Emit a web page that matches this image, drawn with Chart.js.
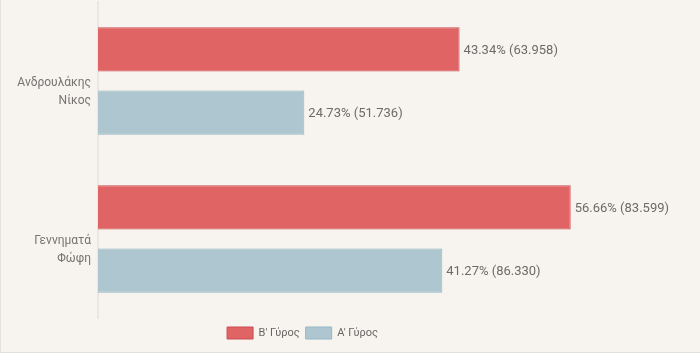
<!DOCTYPE html>
<html>
<head>
<meta charset="utf-8">
<script src="https://cdn.jsdelivr.net/npm/chart.js@4/dist/chart.umd.min.js"></script>
<style>
  html, body { margin: 0; padding: 0; background: #ffffff; }
  #wrap { position: absolute; left: 0; top: 0; width: 699px; height: 352px; background: #f7f3ee; border-left: 1px solid #e6e2dd; border-bottom: 1px solid #e3dfda; }
  canvas { display: block; }
</style>
</head>
<body>
<div id="wrap"><canvas id="c" width="699" height="352"></canvas></div>
<script>
const categories = [["Ανδρουλάκης", "Νίκος"], ["Γεννηματά", "Φώφη"]];
const seriesNames = ["Β' Γύρος", "Α' Γύρος"];
const round2Pct = [43.34, 56.66];
const round1Pct = [24.73, 41.27];
const round2Votes = ["63.958", "83.599"];
const round1Votes = ["51.736", "86.330"];

const votesBySeries = [round2Votes, round1Votes];

const labelPlugin = {
  id: 'barLabels',
  afterLayout(chart) {
    const lg = chart.legend;
    if (lg) { lg.left -= 39; lg.right -= 39; lg.top += 3; lg.bottom += 3; }
  },
  afterDatasetsDraw(chart) {
    const ctx = chart.ctx;
    ctx.save();
    ctx.font = '13px Roboto';
    ctx.fillStyle = '#6b6b6b';
    ctx.textAlign = 'left';
    ctx.textBaseline = 'middle';
    chart.data.datasets.forEach((ds, di) => {
      const meta = chart.getDatasetMeta(di);
      meta.data.forEach((el, i) => {
        const txt = ds.data[i].toFixed(2) + '% (' + votesBySeries[di][i] + ')';
        ctx.fillText(txt, el.x + 4, el.y + 1);
      });
    });
    ctx.restore();
  }
};

new Chart(document.getElementById('c'), {
  type: 'bar',
  data: {
    labels: categories,
    datasets: [
      { label: seriesNames[0], data: round2Pct, backgroundColor: '#e06464', borderColor: '#cc4b52', borderWidth: 1, barPercentage: 0.7, categoryPercentage: 0.8 },
      { label: seriesNames[1], data: round1Pct, backgroundColor: '#adc6d0', borderColor: '#94b7c5', borderWidth: 1, barPercentage: 0.7, categoryPercentage: 0.8 }
    ]
  },
  options: {
    indexAxis: 'y',
    responsive: false,
    animation: false,
    layout: { padding: { top: 2, right: 18, bottom: 6, left: 0 } },
    scales: {
      x: { display: false, min: 0, max: 70 },
      y: {
        grid: { display: false, drawTicks: false },
        border: { display: true, color: '#ebe6e0', width: 2 },
        ticks: { color: '#747474', font: { family: 'Roboto', size: 12, lineHeight: 1.45 }, padding: 7, labelOffset: 11 },
        afterFit(scale) { scale.width = 97; scale.paddingTop = 0; scale.paddingBottom = 0; }
      }
    },
    plugins: {
      legend: {
        position: 'bottom',
        labels: { boxWidth: 26, boxHeight: 12, color: '#666', font: { family: 'Roboto', size: 11 }, padding: 6 }
      },
      tooltip: { enabled: false }
    }
  },
  plugins: [labelPlugin]
});
</script>
</body>
</html>
